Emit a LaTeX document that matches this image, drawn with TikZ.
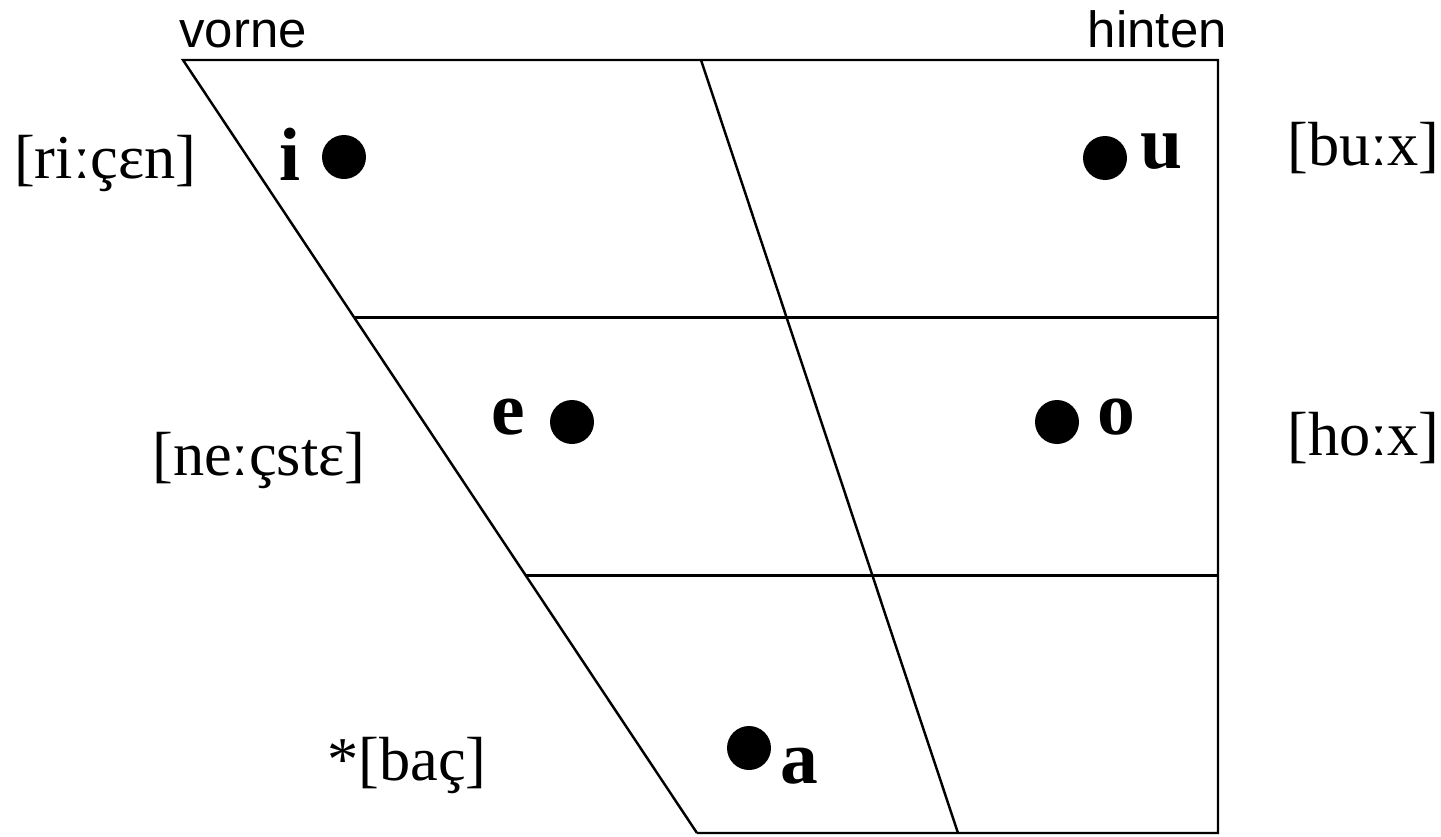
\documentclass[tikz,border=0pt]{standalone}
\usepackage{fontspec}
\setmainfont{Liberation Serif}
\setsansfont{Liberation Sans}
\usetikzlibrary{calc}

\begin{document}
\begin{tikzpicture}[x=0.02cm, y=-0.02cm, line width=1.4pt,
  word/.style={font=\fontsize{35.5}{36}\selectfont, inner sep=0pt},
  vowel/.style={font=\fontsize{43}{44}\selectfont\bfseries, inner sep=0pt},
  side/.style={font=\fontsize{29}{29}\selectfont\sffamily, inner sep=0pt},
  dot/.style={circle, fill, inner sep=0pt, minimum size=0.88cm}]
  \useasboundingbox (0,0) rectangle (1441,836);
  % vowel trapezoid
  \coordinate (tl) at (183,60);
  \coordinate (tr) at (1218,60);
  \coordinate (br) at (1218,833);
  \coordinate (bl) at (697,833);
  \coordinate (mt) at (701,60);
  \coordinate (mb) at (958,833);
  \draw (bl) -- (tl) -- (tr) -- (br) -- (bl);
  \draw (mt) -- (mb);
  \draw ($(tl)!1/3!(bl)$) -- ($(tr)!1/3!(br)$);
  \draw ($(tl)!2/3!(bl)$) -- ($(tr)!2/3!(br)$);
  \node[side, anchor=base west] (vorne) at (178,47) {vorne};
  \node[side, anchor=base east] (hinten) at (1228,47) {hinten};
  % vowels
  \node[dot] (dot-i) at (344,157) {};
  \node[dot] (dot-u) at (1105,158) {};
  \node[dot] (dot-e) at (572,422) {};
  \node[dot] (dot-o) at (1057,422) {};
  \node[dot] (dot-a) at (749,748) {};
  \node[vowel, anchor=base west] (vow-i) at (278,180) {i};
  \node[vowel, anchor=base west] (vow-u) at (1139,168) {u};
  \node[vowel, anchor=base west] (vow-e) at (490,434) {e};
  \node[vowel, anchor=base west] (vow-o) at (1096,434) {o};
  \node[vowel, anchor=base west] (vow-a) at (779,783) {a};
  % example words
  \node[word, anchor=base west] (w-i) at (13,178) {[riːçɛn]};
  \node[word, anchor=base west] (w-u) at (1286,165) {[buːx]};
  \node[word, anchor=base west] (w-e) at (151,475) {[neːçstɛ]};
  \node[word, anchor=base west] (w-o) at (1286,455) {[hoːx]};
  \node[word, anchor=base west] (w-a) at (326,780) {*[baç]};
\end{tikzpicture}
\end{document}
